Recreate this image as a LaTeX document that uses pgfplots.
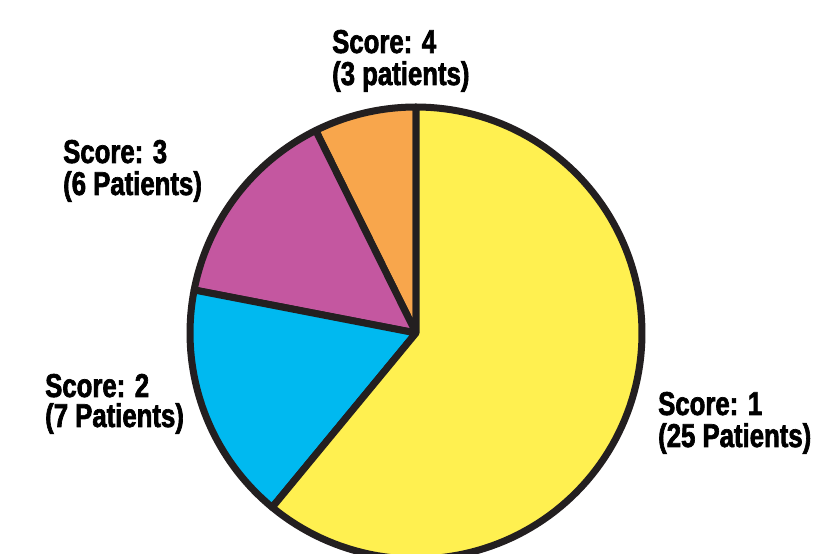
\documentclass[border=0pt]{standalone}
\usepackage{pgfplots}
\pgfplotsset{compat=1.18}
\usepackage{fontspec}
\newfontfamily\lab[FakeStretch=0.78, FakeBold=2]{Liberation Sans}
\definecolor{cOne}{RGB}{255,240,80}
\definecolor{cTwo}{RGB}{0,185,240}
\definecolor{cThree}{RGB}{196,87,160}
\definecolor{cFour}{RGB}{248,166,76}
\definecolor{edge}{RGB}{35,31,32}
% patient counts per score
\def\nOne{25}\def\nTwo{7}\def\nThree{6}\def\nFour{3}
\pgfmathsetmacro{\tot}{\nOne+\nTwo+\nThree+\nFour}
\pgfmathsetmacro{\aA}{90}
\pgfmathsetmacro{\aB}{\aA+360*\nFour/\tot}
\pgfmathsetmacro{\aC}{\aB+360*\nThree/\tot}
\pgfmathsetmacro{\aD}{\aC+360*\nTwo/\tot}
\pgfmathsetmacro{\aE}{\aD+360*\nOne/\tot}
\begin{document}
\begin{tikzpicture}
\begin{axis}[
  name=main,
  scale only axis, width=823pt, height=554pt,
  xmin=-416, xmax=407, ymin=-221, ymax=333,
  hide axis, clip=true,
]
\addplot[fill=cFour, draw=edge, line width=7pt, line join=round, data cs=polar,
  domain=\aA:\aB, samples=30, variable=\t] (\t,226) -- (axis cs:0,0) -- cycle;
\addplot[fill=cThree, draw=edge, line width=7pt, line join=round, data cs=polar,
  domain=\aB:\aC, samples=40, variable=\t] (\t,226) -- (axis cs:0,0) -- cycle;
\addplot[fill=cTwo, draw=edge, line width=7pt, line join=round, data cs=polar,
  domain=\aC:\aD, samples=40, variable=\t] (\t,226) -- (axis cs:0,0) -- cycle;
\addplot[fill=cOne, draw=edge, line width=7pt, line join=round, data cs=polar,
  domain=\aD:\aE, samples=120, variable=\t] (\t,226) -- (axis cs:0,0) -- cycle;
\begin{scope}[every node/.style={anchor=base west, inner sep=0pt, font=\lab\bfseries\fontsize{33}{33}\selectfont, text=black}]
\node at (axis cs:-84,280) {Score: 4};
\node at (axis cs:-84,248) {(3 patients)};
\node at (axis cs:-353,170) {Score: 3};
\node at (axis cs:-353,138) {(6 Patients)};
\node at (axis cs:-371,-64) {Score: 2};
\node at (axis cs:-371,-94) {(7 Patients)};
\node at (axis cs:242,-82) {Score: 1};
\node at (axis cs:242,-114) {(25 Patients)};
\end{scope}
\end{axis}
\pgfresetboundingbox
\path[use as bounding box] (main.south west) rectangle (main.north east);
\end{tikzpicture}
\end{document}
